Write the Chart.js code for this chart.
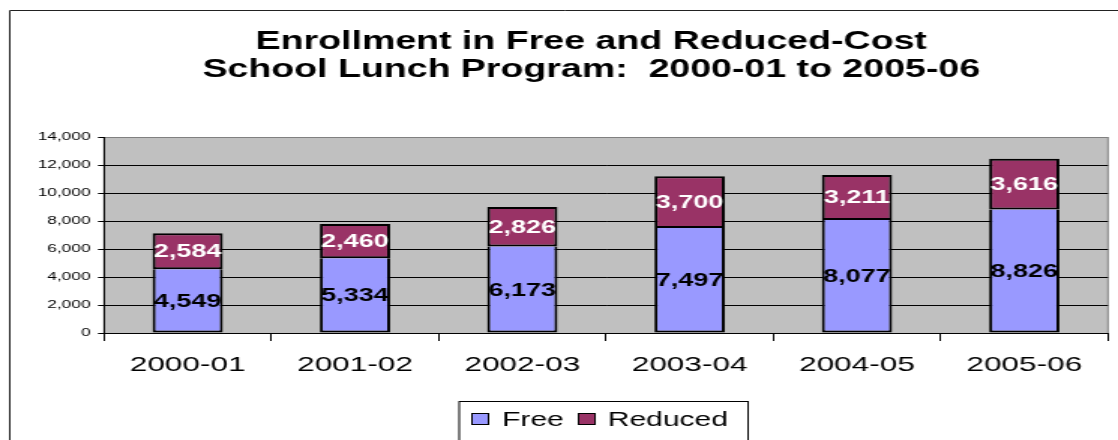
<!DOCTYPE html>
<html lang="en">
<head>
<meta charset="UTF-8">
<title>School Lunch Program Enrollment</title>
<script src="https://cdn.jsdelivr.net/npm/chart.js@4.4.1/dist/chart.umd.min.js"></script>
<style>
  html, body { margin: 0; padding: 0; background: #fff; }
</style>
</head>
<body>
<!-- the reference is stretched sideways, so the canvas is drawn narrower and widened by its inline style -->
<canvas id="lunchChart" width="745" height="440" style="width:1118px;height:440px"></canvas>
<script>
const years = ['2000-01', '2001-02', '2002-03', '2003-04', '2004-05', '2005-06'];
const freeCounts = [4549, 5334, 6173, 7497, 8077, 8826];
const reducedCounts = [2584, 2460, 2826, 3700, 3211, 3616];
const titleLines = ['Enrollment in Free and Reduced-Cost', 'School Lunch Program:  2000-01 to 2005-06'];
const yMax = 14000;
const yStep = 2000;

const FONT = '"Liberation Sans", Arial, sans-serif';

const framePlugin = {
  id: 'frame',
  beforeDraw(chart) {
    const ctx = chart.ctx;
    const a = chart.chartArea;
    ctx.save();
    // outer border of the chart object
    ctx.strokeStyle = '#222';
    ctx.lineWidth = 1;
    ctx.beginPath();
    ctx.moveTo(6.5, 445);
    ctx.lineTo(6.5, 10.5);
    ctx.lineTo(760, 10.5);
    ctx.stroke();
    // plot area
    ctx.fillStyle = '#C0C0C0';
    ctx.fillRect(a.left, a.top, a.right - a.left, a.bottom - a.top);
    ctx.strokeStyle = '#808080';
    ctx.strokeRect(a.left, a.top + 0.5, a.right - a.left, a.bottom - a.top);
    ctx.restore();
  },
  afterDraw(chart) {
    const ctx = chart.ctx;
    ctx.save();
    // title
    ctx.fillStyle = '#000';
    ctx.font = 'bold 25px ' + FONT;
    ctx.textAlign = 'center';
    ctx.textBaseline = 'alphabetic';
    ctx.fillText(titleLines[0], 394, 49);
    ctx.fillText(titleLines[1], 394, 77);

    // legend box
    ctx.strokeStyle = '#000';
    ctx.lineWidth = 1;
    ctx.strokeRect(306, 401.5, 192.5, 60);
    const items = [
      { ds: chart.data.datasets[0], box: 314, text: 334.5 },
      { ds: chart.data.datasets[1], box: 385, text: 405 }
    ];
    ctx.font = '20px ' + FONT;
    ctx.textAlign = 'left';
    items.forEach(it => {
      ctx.fillStyle = it.ds.backgroundColor;
      ctx.fillRect(it.box, 413, 12, 12);
      ctx.strokeStyle = '#000';
      ctx.strokeRect(it.box + 0.5, 413.5, 11, 11);
      ctx.fillStyle = '#000';
      ctx.fillText(it.ds.label, it.text, 426);
    });
    ctx.restore();
  }
};

const valueLabels = {
  id: 'valueLabels',
  afterDatasetsDraw(chart) {
    const ctx = chart.ctx;
    ctx.save();
    ctx.font = 'bold 18px ' + FONT;
    ctx.textAlign = 'center';
    ctx.textBaseline = 'middle';
    chart.data.datasets.forEach((ds, i) => {
      const meta = chart.getDatasetMeta(i);
      ctx.fillStyle = i === 0 ? '#000' : '#fff';
      meta.data.forEach((bar, j) => {
        const v = ds.data[j];
        ctx.fillText(v.toLocaleString('en-US'), bar.x, (bar.y + bar.base) / 2 + 1);
      });
    });
    ctx.restore();
  }
};

const ctx = document.getElementById('lunchChart').getContext('2d');
new Chart(ctx, {
  type: 'bar',
  data: {
    labels: years,
    datasets: [
      {
        label: 'Free',
        data: freeCounts,
        backgroundColor: '#9999FF',
        borderColor: '#000',
        borderWidth: 2,
        borderSkipped: 'end' // the Reduced bar on top draws the dividing line
      },
      {
        label: 'Reduced',
        data: reducedCounts,
        backgroundColor: '#993366',
        borderColor: '#000',
        borderWidth: 2,
        borderSkipped: false
      }
    ]
  },
  options: {
    responsive: false,
    animation: false,
    layout: { padding: { left: 0, top: 137, right: 6.7, bottom: 0 } },
    plugins: {
      legend: { display: false },
      title: { display: false },
      tooltip: { enabled: false }
    },
    datasets: {
      bar: { categoryPercentage: 1, barPercentage: 0.42 }
    },
    scales: {
      x: {
        stacked: true,
        afterFit(scale) { scale.height = 107; },
        border: { color: '#000', width: 1 },
        grid: {
          offset: true,
          drawOnChartArea: false,
          drawTicks: true,
          tickLength: 8,
          color: '#000'
        },
        ticks: {
          color: '#000',
          padding: 12,
          font: { family: FONT, size: 21 }
        }
      },
      y: {
        stacked: true,
        min: 0,
        max: yMax,
        afterFit(scale) { scale.width = 69.3; },
        border: { color: '#000', width: 1 },
        grid: {
          color: c => (c.tick && c.tick.value === yMax ? '#808080' : '#000'),
          tickColor: '#000',
          tickLength: 4,
          lineWidth: 1
        },
        ticks: {
          stepSize: yStep,
          color: '#000',
          padding: 5,
          font: { family: FONT, size: 11.5 },
          callback: v => v.toLocaleString('en-US')
        }
      }
    }
  },
  plugins: [framePlugin, valueLabels]
});
</script>
</body>
</html>
